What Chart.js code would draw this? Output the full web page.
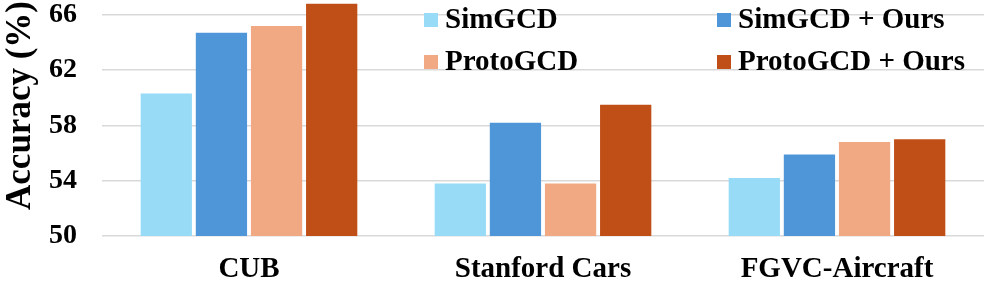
<!DOCTYPE html>
<html>
<head>
<meta charset="utf-8">
<script src="https://cdn.jsdelivr.net/npm/chart.js@4.4.1/dist/chart.umd.min.js"></script>
<style>
    html, body { margin: 0; padding: 0; background: #fff; }
    .chart-container { position: relative; width: 986px; height: 282px; }
</style>
</head>
<body>
<div class="chart-container">
    <canvas id="chartAccuracy"></canvas>
</div>
<script>
const categorias = ['CUB', 'Stanford Cars', 'FGVC-Aircraft'];
const seriesNombres = ['SimGCD', 'SimGCD + Ours', 'ProtoGCD', 'ProtoGCD + Ours'];
const simGCD = [60.3, 53.8, 54.2];
const simGCDOurs = [64.7, 58.2, 55.9];
const protoGCD = [65.2, 53.8, 56.8];
const protoGCDOurs = [66.8, 59.5, 57.0];
const yTicks = [50, 54, 58, 62, 66];

const colores = ['#97dbf7', '#4f96d9', '#f1a984', '#c04f17'];
const fuente = "'Liberation Serif', 'Times New Roman', serif";

// leyenda 2x2 dibujada dentro del area del grafico
const leyendaPlugin = {
    id: 'leyenda2x2',
    afterDraw(chart) {
        const ctx = chart.ctx;
        const cols = [424, 717];
        const filas = [28, 70];
        ctx.save();
        ctx.font = `bold 29px ${fuente}`;
        ctx.textBaseline = 'alphabetic';
        ctx.textAlign = 'left';
        chart.data.datasets.forEach((ds, i) => {
            const x = cols[i % 2];
            const y = filas[Math.floor(i / 2)];
            ctx.fillStyle = ds.backgroundColor;
            ctx.fillRect(x, y - 15, 14, 14);
            ctx.fillStyle = '#000';
            ctx.fillText(ds.label, x + 21, y);
        });
        ctx.restore();
    }
};

const ctx = document.getElementById('chartAccuracy').getContext('2d');
new Chart(ctx, {
    type: 'bar',
    data: {
        labels: categorias,
        datasets: [simGCD, simGCDOurs, protoGCD, protoGCDOurs].map((data, i) => ({
            label: seriesNombres[i],
            data,
            backgroundColor: colores[i],
            categoryPercentage: 0.75,
            barPercentage: 0.93
        }))
    },
    options: {
        responsive: true,
        maintainAspectRatio: false,
        animation: false,
        layout: { padding: { top: 1, right: 2, left: 0, bottom: 0 } },
        plugins: {
            legend: { display: false },
            tooltip: { enabled: false }
        },
        scales: {
            x: {
                grid: { display: false },
                border: { display: false },
                ticks: {
                    color: '#000',
                    padding: 8,
                    font: { family: fuente, size: 29, weight: 'bold' }
                },
                afterFit: axis => {
                    axis.height = 46;
                    axis.paddingLeft = 0;
                    axis.paddingRight = 0;
                }
            },
            y: {
                min: 50,
                max: 67,
                grid: { color: '#d9d9d9', lineWidth: 1.5, drawTicks: false },
                border: { display: false },
                ticks: {
                    stepSize: 4,
                    color: '#000',
                    padding: 25,
                    font: { family: fuente, size: 28, weight: 'bold' }
                },
                afterBuildTicks: axis => {
                    axis.ticks = yTicks.map(v => ({ value: v }));
                },
                afterFit: axis => {
                    axis.width = 102;
                    axis.paddingTop = 0;
                    axis.paddingBottom = 0;
                },
                title: {
                    display: true,
                    text: 'Accuracy (%)',
                    align: 'end',
                    color: '#000',
                    padding: { top: 0, bottom: 0 },
                    font: { family: fuente, size: 35, weight: 'bold' }
                }
            }
        }
    },
    plugins: [leyendaPlugin]
});
</script>
</body>
</html>
